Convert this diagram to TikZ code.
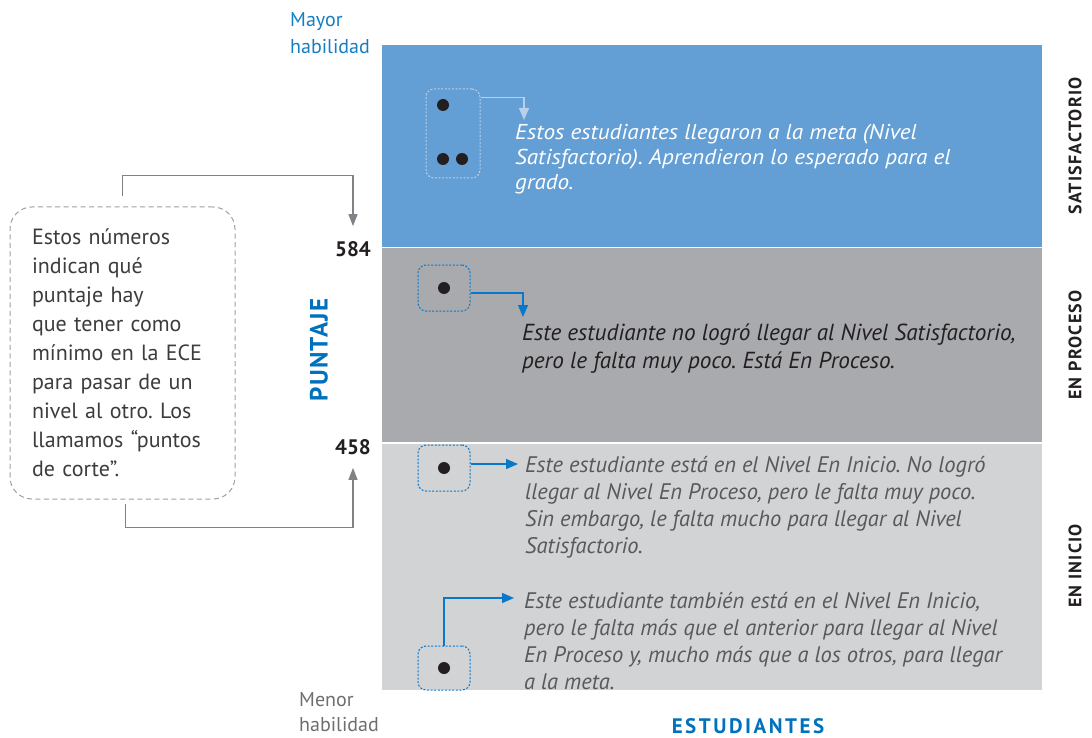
\documentclass[tikz,border=0pt]{standalone}
\usepackage{fontspec}
\setmainfont{PT Sans}
\newfontfamily\anchafont[FakeStretch=1.08]{PT Sans}
\usepackage{xcolor}
\usepackage{tikz}
\usetikzlibrary{arrows.meta}

\definecolor{azulnivel}{RGB}{99,158,213}
\definecolor{grisnivel}{RGB}{169,170,173}
\definecolor{claronivel}{RGB}{209,211,212}
\definecolor{azultitulo}{RGB}{0,114,188}
\definecolor{azulmayor}{RGB}{20,125,195}
\definecolor{azulceleste}{RGB}{10,120,200}
\definecolor{azulpalido}{RGB}{185,208,234}
\definecolor{grisflecha}{RGB}{128,130,133}
\definecolor{grisborde}{RGB}{160,160,162}
\definecolor{grisnota}{RGB}{60,60,62}
\definecolor{grismenor}{RGB}{109,110,113}
\definecolor{grislectura}{RGB}{88,89,91}
\definecolor{negro}{RGB}{35,31,32}

\begin{document}
\frenchspacing
\begin{tikzpicture}[x=1pt,y=-1pt,
  grupo/.style={draw=azulceleste,line width=1pt,dash pattern=on 2pt off 1.6pt,rounded corners=8pt,minimum width=52pt,minimum height=46pt,inner sep=0pt},
  punto/.style={fill=negro},
  flechanivel/.style={line width=1.4pt,azulceleste,-{Triangle[length=12pt,width=10pt]}},
  flechagris/.style={line width=1.2pt,grisflecha,-{Triangle[length=12pt,width=9pt]}},
  lectura/.style={anchor=west,align=left,inner sep=0pt,font=\itshape\fontsize{22.5}{27}\selectfont},
  nivel/.style={rotate=90,inner sep=0pt,font=\bfseries\fontsize{18}{20}\selectfont\addfontfeature{LetterSpace=7},text=negro},
  corte/.style={inner sep=2pt,font=\bfseries\fontsize{21}{24}\selectfont,text=negro}]

\useasboundingbox (0,0) rectangle (1092,738);

\fill[azulnivel] (382,45) rectangle (1042,246.5);
\fill[grisnivel] (382,247.5) rectangle (1042,442);
\fill[claronivel] (382,444) rectangle (1042,690);

\node[lectura,text=white,font=\anchafont\itshape\fontsize{21.5}{25}\selectfont] (tsat) at (515,159) {Estos estudiantes llegaron a la meta (Nivel\\Satisfactorio). Aprendieron lo esperado para el\\grado.};
\node[lectura,text=negro,font=\itshape\fontsize{23.2}{27.5}\selectfont] (tproc) at (522,348.5) {Este estudiante no logró llegar al Nivel Satisfactorio,\\pero le falta muy poco. Está En Proceso.};
\node[lectura,text=grislectura] (tini1) at (525,507) {Este estudiante está en el Nivel En Inicio. No logró\\llegar al Nivel En Proceso, pero le falta muy poco.\\Sin embargo, le falta mucho para llegar al Nivel\\Satisfactorio.};
\node[lectura,text=grislectura] (tini2) at (524,641) {Este estudiante también está en el Nivel En Inicio,\\pero le falta más que el anterior para llegar al Nivel\\En Proceso y, mucho más que a los otros, para llegar\\a la meta.};

\node[grupo,draw=azulpalido,minimum width=54pt,minimum height=89pt] (gsat) at (453,133.5) {};
\node[grupo] (gproc) at (444,288) {};
\node[grupo] (gini1) at (444,468) {};
\node[grupo,minimum height=44pt] (gini2) at (444,668) {};
\fill[punto] (443,105) circle (6);
\fill[punto] (443,159) circle (6);
\fill[punto] (462,159) circle (6);
\fill[punto] (gproc) circle (6);
\fill[punto] (gini1) circle (6);
\fill[punto] (gini2) circle (6);

\coordinate (psat) at (524,120);
\coordinate (pproc) at (523,317);
\coordinate (pini1) at (518,464);
\coordinate (pini2) at (514,598);
\draw[flechanivel,azulpalido] ([yshift=-9pt]gsat.north east) -| (psat);
\draw[flechanivel] ([yshift=-5pt]gproc.east) -| (pproc);
\draw[flechanivel] ([yshift=4pt]gini1.east) -- (pini1);
\draw[flechanivel] (gini2.north) |- (pini2);

\node[draw=grisborde,line width=1pt,dash pattern=on 5pt off 3.5pt,rounded corners=22pt,text width=181pt,inner xsep=22pt,minimum height=292pt,align=left,text=grisnota,font=\fontsize{22}{29}\selectfont] (nota) at (122.5,353) {Estos números\\indican qué\\puntaje hay\\que tener como\\mínimo en la ECE\\para pasar de un\\nivel al otro. Los\\llamamos “puntos\\de corte”.};

\node[corte] (n584) at (353,249) {584};
\node[corte] (n458) at (353,447) {458};
\draw[flechagris] ([yshift=10pt]nota.north) -- ++(0,-21) -| ([yshift=13pt]n584.north);
\draw[flechagris] ([xshift=3pt,yshift=-4pt]nota.south) -- ++(0,24) -| ([yshift=-11pt]n458.south);

\node[rotate=90,text=azultitulo,font=\bfseries\fontsize{25}{30}\selectfont\addfontfeature{LetterSpace=5}] (puntaje) at (319,350) {PUNTAJE};
\node[text=azultitulo,font=\bfseries\fontsize{21}{25}\selectfont\addfontfeature{LetterSpace=12}] (estudiantes) at (748,726) {ESTUDIANTES};

\node[anchor=west,align=left,inner sep=0pt,text=azulmayor,font=\fontsize{20}{27}\selectfont] (mayor) at (290,33.5) {Mayor\\habilidad};
\node[anchor=west,align=left,inner sep=0pt,text=grismenor,font=\fontsize{20}{25}\selectfont] (menor) at (299,712.5) {Menor\\habilidad};

\node[nivel] (lsat) at (1075,146) {SATISFACTORIO};
\node[nivel] (lproc) at (1075,345) {EN PROCESO};
\node[nivel] (lini) at (1075,566) {EN INICIO};
\end{tikzpicture}
\end{document}
